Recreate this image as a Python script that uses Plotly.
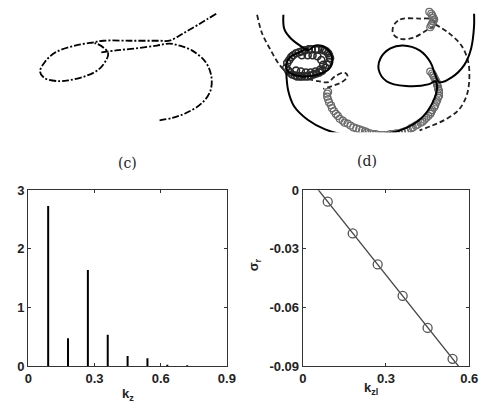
import plotly.graph_objects as go

# ---------------- data ----------------
# (c) spectrum amplitudes vs axial wavenumber
kz = [0.09, 0.18, 0.27, 0.36, 0.45, 0.54, 0.63, 0.72]
amplitude = [2.73, 0.48, 1.64, 0.54, 0.18, 0.14, 0.03, 0.02]

# (d) growth rate vs wavenumber: computed points and linear fit
kzl = [0.09, 0.18, 0.27, 0.36, 0.45, 0.54]
sigma_r = [-0.0059, -0.0221, -0.0379, -0.054, -0.0703, -0.0861]
fit_k = [0.0, 0.6]
fit_sigma = [0.0101, -0.0967]

c_xticks = [0, 0.3, 0.6, 0.9]
c_xtext = ["0", "0.3", "0.6", "0.9"]
c_yticks = [0, 1, 2, 3]
c_ytext = ["0", "1", "2", "3"]
d_xticks = [0, 0.3, 0.6]
d_xtext = ["0", "0.3", "0.6"]
d_yticks = [0, -0.03, -0.06, -0.09]
d_ytext = ["0", "-0.03", "-0.06", "-0.09"]

# (a) trajectory, arbitrary units (y grows downward)
traj_a_x = [218, 200, 183, 170, 160, 130, 102, 90, 73, 53, 42, 37, 42, 57, 67, 83, 97, 105, 107,
            102, 95, 90, None,
            100, 115, 135, 157, 170, 180, 193, 207, 213, 212, 203, 187, 173, 158]
traj_a_y = [7, 18, 28, 35, 35, 35, 35, 37, 40, 47, 57, 67, 74, 77, 76, 72, 65, 55, 48,
            42, 38, 37, None,
            47, 45, 43, 40, 38, 40, 45, 57, 72, 87, 100, 110, 115, 118]

# (b) trajectories
solid_b_x = [287, 288, 295, 307, 312, 320, 330, 337, 335, 323, 307, 293, 290, 293, 303, 312,
             None,
             290, 292, 298, 312, 330, 353, 380, 407, 427, 440, 445, 443, 437, 413, 393, 385,
             387, 397, 410, 427, 438, 443, 447, 460, 473, 480, 483, 483]
solid_b_y = [8, 23, 33, 42, 45, 40, 42, 52, 63, 70, 72, 68, 63, 53, 47, 43,
             None,
             68, 87, 103, 117, 127, 133, 133, 128, 117, 100, 83, 77, 80, 82, 77, 65,
             53, 43, 40, 45, 57, 70, 78, 73, 60, 43, 20, 7]
dash_b_x = [260, 265, 273, 283, 290, 307, 323, 333, 340, 350, 353, 347, 337, 328, None,
            400, 407, 427, 440, 443, 433, 420, 407, 400, 400, None,
            443, 457, 470, 477, 478, 475, 467, 453, 440, 427]
dash_b_y = [8, 27, 43, 60, 67, 73, 77, 78, 72, 68, 72, 78, 82, 85, None,
            20, 13, 12, 13, 18, 25, 32, 33, 28, 20, None,
            18, 27, 40, 57, 77, 93, 107, 117, 123, 128]
# circle-marked trajectory: lower arc and top-right cluster
mark_b_x = [333, 332, 332, 333, 334, 336, 337, 339, 341, 343, 345, 348, 350, 353, 356, 359,
            362, 365, 368, 371, 373, 376, 379, 382, 385, 388, 391, 394, 397, 400, 403, 406,
            409, 412, 415, 418, 420, 423, 425, 428, 430, 432, 434, 436, 438, 439, 440, 442,
            443, 444, 445, 446, 447, 447, 447, 446, 446, 445, 445, 444, 443, 442, 441, 440,
            438,
            437, 439, 440, 441, 442, 441, 440, 439, 438]
mark_b_y = [88, 90, 93, 96, 99, 102, 105, 108, 111, 113, 116, 118, 120, 121, 123, 125,
            126, 127, 128, 129, 130, 131, 132, 132, 133, 133, 133, 133, 132, 132, 131, 131,
            130, 129, 128, 126, 125, 123, 122, 120, 119, 117, 115, 113, 111, 109, 107, 104,
            102, 99, 97, 94, 92, 89, 87, 85, 83, 81, 79, 77, 75, 73, 71, 69,
            67,
            5, 7, 9, 11, 13, 15, 17, 19, 21]
# circle-marked trajectory: dense wound-up loop on the left
loop_b_x = [290, 292, 294, 296, 299, 301, 304, 306, 309, 312, 315, 318, 321, 324, 327, 330,
            332, 334, 335, 334, 333, 331, 329, 327, 323, 320, 316, 313, 309, 306, 303, 300,
            297, 295, 293, 291, 300, 305, 310, 315, 320, 325, 328, 326, 322, 317, 312, 306]
loop_b_y = [63, 66, 68, 70, 71, 72, 72, 72, 72, 72, 71, 70, 69, 68, 66, 63,
            60, 57, 53, 50, 48, 46, 45, 44, 44, 44, 44, 44, 45, 46, 47, 48,
            50, 52, 55, 58, 66, 67, 68, 68, 67, 65, 60, 55, 51, 50, 50, 50]

# stems for the spectrum, one segment per wavenumber
stem_x, stem_y = [], []
for k, a in zip(kz, amplitude):
    stem_x += [k, k, None]
    stem_y += [0, a, None]

FONT = "Liberation Sans"
AX = "#333333"

fig = go.Figure()

# top-left trajectory
fig.add_trace(go.Scatter(x=traj_a_x, y=traj_a_y, mode="lines",
                         line=dict(color="black", width=1.8, dash="7px,2px,2px,2px", shape="spline"),
                         xaxis="x", yaxis="y", connectgaps=False))
# top-right trajectories
fig.add_trace(go.Scatter(x=dash_b_x, y=dash_b_y, mode="lines",
                         line=dict(color="#222222", width=1.8, dash="5px,3px", shape="spline"),
                         xaxis="x2", yaxis="y2", connectgaps=False))
fig.add_trace(go.Scatter(x=mark_b_x, y=mark_b_y, mode="markers",
                         marker=dict(symbol="circle-open", size=7, color="#6a6a6a",
                                     line=dict(width=1.2)),
                         xaxis="x2", yaxis="y2"))
fig.add_trace(go.Scatter(x=loop_b_x, y=loop_b_y, mode="markers",
                         marker=dict(symbol="circle-open", size=7, color="#2a2a2a",
                                     line=dict(width=1.6)),
                         xaxis="x2", yaxis="y2"))
fig.add_trace(go.Scatter(x=solid_b_x, y=solid_b_y, mode="lines",
                         line=dict(color="black", width=2, shape="spline"),
                         xaxis="x2", yaxis="y2", connectgaps=False))

# (c) stems
fig.add_trace(go.Scatter(x=stem_x, y=stem_y, mode="lines",
                         line=dict(color="black", width=2),
                         xaxis="x3", yaxis="y3", connectgaps=False))

# (d) fit line and points
fig.add_trace(go.Scatter(x=fit_k, y=fit_sigma, mode="lines",
                         line=dict(color="#444444", width=1.3),
                         xaxis="x4", yaxis="y4"))
fig.add_trace(go.Scatter(x=kzl, y=sigma_r, mode="markers",
                         marker=dict(symbol="circle-open", size=9, color="#555555",
                                     line=dict(width=1.3)),
                         xaxis="x4", yaxis="y4"))

hidden = dict(visible=False, showgrid=False, zeroline=False)
tickfont = dict(family=FONT, size=13, color="#222222", weight="bold")
boxed = dict(showline=True, linecolor=AX, linewidth=1.2, mirror="ticks", ticks="inside",
             ticklen=3, tickcolor=AX, showgrid=False, zeroline=False, tickfont=tickfont)

fig.update_layout(
    width=485, height=414,
    margin=dict(l=0, r=0, t=0, b=0),
    paper_bgcolor="white", plot_bgcolor="white",
    showlegend=False,
    font=dict(family=FONT, color="#222222"),
    xaxis=dict(domain=[0, 0.495], range=[0, 240], **hidden),
    yaxis=dict(domain=[0.686, 1], range=[130, 0], **hidden),
    xaxis2=dict(domain=[0.495, 1], range=[240, 485], **hidden),
    yaxis2=dict(domain=[0.686, 1], range=[130, 0], **hidden),
    xaxis3=dict(domain=[0.0515, 0.4722], range=[0, 0.9], tickvals=c_xticks, ticktext=c_xtext,
                anchor="y3", **boxed),
    yaxis3=dict(domain=[0.099, 0.541], range=[0, 3], tickvals=c_yticks, ticktext=c_ytext,
                anchor="x3", **boxed),
    xaxis4=dict(domain=[0.633, 0.9856], range=[0, 0.6], tickvals=d_xticks, ticktext=d_xtext,
                anchor="y4", **boxed),
    yaxis4=dict(domain=[0.099, 0.541], range=[-0.09, 0], tickvals=d_yticks, ticktext=d_ytext,
                anchor="x4", **boxed),
)

labels = [
    dict(text="(c)", x=0.262, y=0.609, size=14, family="DejaVu Serif", angle=0),
    dict(text="(d)", x=0.769, y=0.614, size=14, family="DejaVu Serif", angle=0),
    dict(text="<b>k<sub>z</sub></b>", x=0.262, y=0.028, size=13, family=FONT, angle=0),
    dict(text="<b>k<sub>zl</sub></b>", x=0.778, y=0.043, size=13, family=FONT, angle=0),
    dict(text="<b>σ<sub>r</sub></b>", x=0.530, y=0.353, size=13, family=FONT, angle=-90),
]
for lb in labels:
    fig.add_annotation(text=lb["text"], x=lb["x"], y=lb["y"], xref="paper", yref="paper",
                       xanchor="center", yanchor="middle",
                       showarrow=False, textangle=lb["angle"],
                       font=dict(family=lb["family"], size=lb["size"], color="#222222"))

fig.write_html("out.html")
